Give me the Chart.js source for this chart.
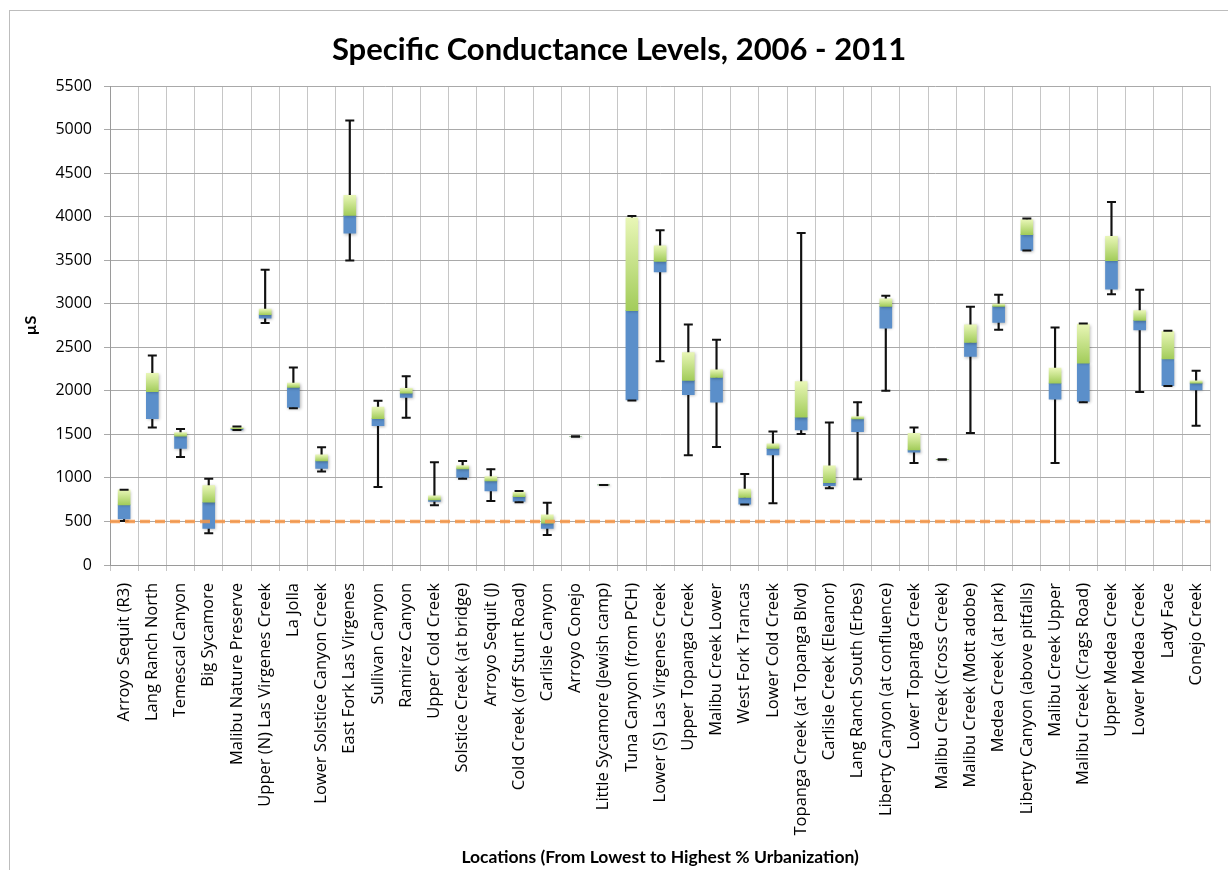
<!DOCTYPE html>
<html>
<head>
<meta charset="utf-8">
<script src="https://cdn.jsdelivr.net/npm/chart.js@4/dist/chart.umd.min.js"></script>
<style>
  html, body { margin: 0; padding: 0; background: #ffffff; }
  #wrap { position: relative; width: 1228px; height: 870px; overflow: hidden; }
  #frame { position: absolute; left: 9px; top: 10px; width: 1240px; height: 880px;
           border: 1px solid #bdbdbd; box-sizing: border-box; }
  canvas { position: absolute; left: 0; top: 0; }
</style>
</head>
<body>
<div id="wrap">
  <div id="frame"></div>
  <canvas id="chart" width="1228" height="870"></canvas>
</div>
<script>
// Sampling sites, ordered from lowest to highest % urbanization
const locations = [
  'Arroyo Sequit (R3)', 'Lang Ranch North', 'Temescal Canyon', 'Big Sycamore',
  'Malibu Nature Preserve', 'Upper (N) Las Virgenes Creek', 'La Jolla',
  'Lower Solstice Canyon Creek', 'East Fork Las Virgenes', 'Sullivan Canyon',
  'Ramirez Canyon', 'Upper Cold Creek', 'Solstice Creek (at bridge)', 'Arroyo Sequit (J)',
  'Cold Creek (off Stunt Road)', 'Carlisle Canyon', 'Arroyo Conejo',
  'Little Sycamore (Jewish camp)', 'Tuna Canyon (from PCH)', 'Lower (S) Las Virgenes Creek',
  'Upper Topanga Creek', 'Malibu Creek Lower', 'West Fork Trancas', 'Lower Cold Creek',
  'Topanga Creek (at Topanga Blvd)', 'Carlisle Creek (Eleanor)', 'Lang Ranch South (Erbes)',
  'Liberty Canyon (at confluence)', 'Lower Topanga Creek', 'Malibu Creek (Cross Creek)',
  'Malibu Creek (Mott adobe)', 'Medea Creek (at park)', 'Liberty Canyon (above pitfalls)',
  'Malibu Creek Upper', 'Malibu Creek (Crags Road)', 'Upper Medea Creek',
  'Lower Medea Creek', 'Lady Face', 'Conejo Creek'
];

// Specific conductance (µS): five-number summary per site
const minValues    = [505, 1580, 1240, 365, 1550, 2780, 1800, 1075, 3495,  895, 1690,  685,  990,  735, 720, 345, 1475, 920, 1890, 2340, 1260, 1355, 695,  710, 1505,  880,  985, 2000, 1170, 1210, 1515, 2700, 3610, 1170, 1870, 3110, 1985, 2055, 1600];
const q1Values     = [530, 1680, 1340, 420, 1552, 2835, 1808, 1110, 3810, 1600, 1925,  730, 1005,  850, 730, 420, 1475, 920, 1895, 3365, 1955, 1870, 698, 1265, 1552,  912, 1532, 2720, 1295, 1210, 2395, 2785, 3612, 1905, 1878, 3168, 2700, 2060, 2010];
const medianValues = [690, 1990, 1480, 720, 1565, 2873, 2040, 1195, 4015, 1680, 1973,  748, 1103,  965, 785, 480, 1475, 920, 2920, 3486, 2120, 2153, 775, 1340, 1697,  946, 1678, 2970, 1322, 1210, 2555, 2970, 3793, 2088, 2318, 3495, 2808, 2365, 2088];
const q3Values     = [862, 2200, 1521, 912, 1580, 2938, 2088, 1264, 4245, 1812, 2030,  793, 1142, 1015, 835, 575, 1475, 920, 3985, 3666, 2440, 2241, 873, 1391, 2107, 1138, 1705, 3057, 1513, 1210, 2758, 2996, 3965, 2260, 2766, 3775, 2920, 2682, 2115];
const maxValues    = [865, 2406, 1563, 990, 1590, 3390, 2268, 1352, 5103, 1885, 2168, 1180, 1195, 1100, 850, 716, 1475, 920, 4007, 3843, 2762, 2586, 1046, 1532, 3812, 1636, 1870, 3092, 1578, 1210, 2965, 3103, 3980, 2728, 2774, 4168, 3161, 2689, 2230];

// Reference level drawn as a dashed line
const referenceLevel = 500;

// Value axis ticks
const yTickValues = [0, 500, 1000, 1500, 2000, 2500, 3000, 3500, 4000, 4500, 5000, 5500];

const lowerBoxes = locations.map((_, i) => [q1Values[i], medianValues[i]]);
const upperBoxes = locations.map((_, i) => [medianValues[i], q3Values[i]]);
const whiskers   = locations.map((_, i) => [minValues[i], maxValues[i]]);

const BLUE = '#5b8fca';
const GREEN_TOP = '#e8f6b6';
const GREEN_BOTTOM = '#a2cc5a';
const LABEL_FONT = "'Open Sans', 'DejaVu Sans', sans-serif";
const TITLE_FONT = "Lato, 'Open Sans', sans-serif";

function greenFill(c) {
  const chart = c.chart;
  const y = chart.scales && chart.scales.y;
  if (!y || !chart.chartArea || c.dataIndex === undefined) return GREEN_BOTTOM;
  const top = y.getPixelForValue(q3Values[c.dataIndex]);
  const bottom = y.getPixelForValue(medianValues[c.dataIndex]);
  if (!isFinite(top) || !isFinite(bottom) || bottom - top < 1) return GREEN_BOTTOM;
  const g = chart.ctx.createLinearGradient(0, top, 0, bottom);
  g.addColorStop(0, GREEN_TOP);
  g.addColorStop(1, GREEN_BOTTOM);
  return g;
}

// Dashed horizontal reference line across the plot area, plus soft box shadows
const boxPlotExtras = {
  id: 'boxPlotExtras',
  beforeDatasetDraw(chart, args) {
    if (args.meta.type === 'bar' && args.index > 0) {
      const ctx = chart.ctx;
      ctx.save();
      ctx.shadowColor = 'rgba(0,0,0,0.28)';
      ctx.shadowBlur = 3;
      ctx.shadowOffsetX = 1;
      ctx.shadowOffsetY = 1;
    }
  },
  afterDatasetDraw(chart, args) {
    if (args.meta.type === 'bar' && args.index > 0) chart.ctx.restore();
  },
  afterDatasetsDraw(chart) {
    const { ctx, chartArea, scales } = chart;
    const y = scales.y.getPixelForValue(referenceLevel);
    ctx.save();
    ctx.strokeStyle = 'rgba(247, 150, 70, 0.85)';
    ctx.lineWidth = 3.5;
    ctx.setLineDash([10, 5]);
    ctx.beginPath();
    ctx.moveTo(chartArea.left, y);
    ctx.lineTo(chartArea.right, y);
    ctx.stroke();
    ctx.restore();
  }
};

new Chart(document.getElementById('chart'), {
  type: 'bar',
  data: {
    labels: locations,
    datasets: [
      {
        label: 'Range',
        data: whiskers,
        backgroundColor: '#111111',
        barThickness: 1.5,
        grouped: false,
        order: 4
      },
      {
        label: 'Lower quartile',
        data: lowerBoxes,
        backgroundColor: BLUE,
        barThickness: 12,
        grouped: false,
        order: 3
      },
      {
        label: 'Upper quartile',
        data: upperBoxes,
        backgroundColor: greenFill,
        barThickness: 12,
        grouped: false,
        order: 2
      },
      {
        type: 'line',
        label: 'Minimum',
        data: minValues,
        showLine: false,
        pointStyle: 'line',
        pointRadius: 4.5,
        pointBorderWidth: 2,
        pointBorderColor: '#111111',
        order: 1
      },
      {
        type: 'line',
        label: 'Maximum',
        data: maxValues,
        showLine: false,
        pointStyle: 'line',
        pointRadius: 4.5,
        pointBorderWidth: 2,
        pointBorderColor: '#111111',
        order: 0
      }
    ]
  },
  options: {
    responsive: false,
    animation: false,
    events: [],
    layout: { padding: { left: 10, top: 10, right: 0, bottom: 0 } },
    plugins: {
      legend: { display: false },
      tooltip: { enabled: false },
      title: {
        display: true,
        text: 'Specific Conductance Levels, 2006 - 2011',
        color: '#000000',
        font: { family: TITLE_FONT, size: 31, weight: 'bold', lineHeight: 1.2 },
        padding: { top: 21.4, bottom: 17.4 }
      }
    },
    scales: {
      x: {
        offset: true,
        grid: { display: true, offset: true, color: '#c6c6c6', lineWidth: 1, tickLength: 6 },
        border: { display: true, color: '#9a9a9a', width: 1 },
        ticks: {
          autoSkip: false,
          minRotation: 90,
          maxRotation: 90,
          padding: 12,
          color: '#000000',
          font: { family: LABEL_FONT, size: 16.5 }
        },
        title: {
          display: true,
          text: 'Locations (From Lowest to Highest % Urbanization)',
          color: '#000000',
          font: { family: TITLE_FONT, size: 17.5, weight: 'bold', lineHeight: 1.2 },
          padding: { top: 0, bottom: 2 }
        },
        afterFit(scale) { scale.height = 305; }
      },
      y: {
        min: 0,
        max: 5500,
        afterBuildTicks(scale) { scale.ticks = yTickValues.map(v => ({ value: v })); },
        grid: { color: '#a9a9a9', lineWidth: 1, tickLength: 6 },
        border: { display: true, color: '#9a9a9a', width: 1 },
        ticks: {
          padding: 12,
          color: '#000000',
          font: { family: LABEL_FONT, size: 16 },
          callback: (value) => String(value)
        },
        title: {
          display: true,
          text: 'µS',
          color: '#000000',
          font: { family: TITLE_FONT, size: 16, weight: 'bold', lineHeight: 1.2 },
          padding: { top: 11, bottom: 0 }
        },
        afterFit(scale) { scale.width = 100; }
      }
    }
  },
  plugins: [boxPlotExtras]
});
</script>
</body>
</html>
